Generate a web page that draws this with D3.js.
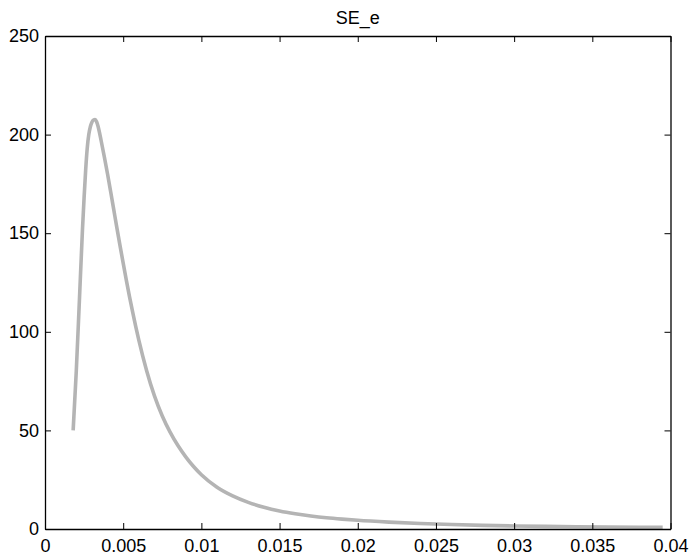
<!DOCTYPE html>
<html>
<head>
<meta charset="utf-8">
<script src="https://cdn.jsdelivr.net/npm/d3@7"></script>
<style>
  html, body { margin: 0; padding: 0; background: #fff; }
  svg { display: block; font-family: "Liberation Sans", Arial, sans-serif; }
</style>
</head>
<body>
<svg id="chart" width="691" height="556"></svg>
<script>
const title = "SE_e";
const xValues = [0.0018, 0.0020, 0.0022, 0.0024, 0.0025, 0.0026, 0.0027, 0.0028, 0.0029, 0.0030, 0.0031, 0.0032,
  0.0033, 0.0034, 0.0036, 0.0038, 0.0040, 0.0042, 0.0044, 0.0046, 0.0048, 0.0050, 0.0052, 0.0054,
  0.0056, 0.0058, 0.0060, 0.0065, 0.0070, 0.0075, 0.0080, 0.0085, 0.0090, 0.0095, 0.0100, 0.0110,
  0.0120, 0.0130, 0.0140, 0.0150, 0.0160, 0.0170, 0.0180, 0.0190, 0.0200, 0.0220, 0.0240, 0.0260,
  0.0280, 0.0300, 0.0320, 0.0340, 0.0360, 0.0380, 0.0395];
const yValues = [50, 80, 116, 152.5, 168, 182, 193, 200, 204, 206.3, 207.4, 207.6,
  206.5, 204, 196.5, 188.5, 180, 171, 161.8, 152.6, 143.6, 134.8, 126.2, 118,
  110.2, 102.8, 95.8, 80.3, 67.5, 57.3, 49.1, 42.3, 36.6, 31.7, 27.5, 21.2,
  16.8, 13.5, 11, 9.1, 7.7, 6.6, 5.7, 5.0, 4.4, 3.5, 2.8, 2.25,
  1.85, 1.55, 1.32, 1.14, 1.0, 0.88, 0.8];
const xTicks = [0, 0.005, 0.01, 0.015, 0.02, 0.025, 0.03, 0.035, 0.04];
const xTickLabels = ["0", "0.005", "0.01", "0.015", "0.02", "0.025", "0.03", "0.035", "0.04"];
const yTicks = [0, 50, 100, 150, 200, 250];
const yTickLabels = ["0", "50", "100", "150", "200", "250"];

const data = xValues.map((x, i) => ({x, y: yValues[i]}));

const W = 691, H = 556;
const margin = {left: 45, top: 36, right: W - 670.5, bottom: H - 529};
const svg = d3.select("#chart");

const x = d3.scaleLinear().domain([0, 0.04]).range([margin.left, W - margin.right]);
const y = d3.scaleLinear().domain([0, 250]).range([H - margin.bottom, margin.top]);

// Curve
const line = d3.line().x(d => x(d.x)).y(d => y(d.y)).curve(d3.curveMonotoneX);
svg.append("path").datum(data)
  .attr("d", line)
  .attr("fill", "none")
  .attr("stroke", "#b4b4b4")
  .attr("stroke-width", 3.6)
  .attr("stroke-linejoin", "round")
  .attr("stroke-linecap", "butt");

const tickLen = 6;
const fontSize = 18;

// Bottom axis
const gB = svg.append("g").attr("transform", `translate(0,${y(0)})`)
  .call(d3.axisBottom(x).tickValues(xTicks).tickFormat((d, i) => xTickLabels[i]).tickSizeInner(-tickLen).tickSizeOuter(0).tickPadding(10));
// Top axis
const gT = svg.append("g").attr("transform", `translate(0,${y(250)})`)
  .call(d3.axisTop(x).tickValues(xTicks).tickFormat("").tickSizeInner(-tickLen).tickSizeOuter(0));
// Left axis
const gL = svg.append("g").attr("transform", `translate(${x(0)},0)`)
  .call(d3.axisLeft(y).tickValues(yTicks).tickFormat((d, i) => yTickLabels[i]).tickSizeInner(-tickLen).tickSizeOuter(0).tickPadding(6));
// Right axis
const gR = svg.append("g").attr("transform", `translate(${x(0.04)},0)`)
  .call(d3.axisRight(y).tickValues(yTicks).tickFormat("").tickSizeInner(-tickLen).tickSizeOuter(0));

[gB, gT, gL, gR].forEach(g => {
  g.select(".domain").attr("stroke", "#000").attr("stroke-width", 1.3);
  g.selectAll(".tick line").attr("stroke", "#000").attr("stroke-width", 1);
  g.selectAll("text").attr("fill", "#000").attr("font-size", fontSize)
    .attr("font-family", "'Liberation Sans', Arial, sans-serif");
});

// Title
svg.append("text")
  .attr("x", (x(0) + x(0.04)) / 2)
  .attr("y", 24)
  .attr("text-anchor", "middle")
  .attr("font-size", fontSize)
  .attr("fill", "#000")
  .text(title);
</script>
</body>
</html>
